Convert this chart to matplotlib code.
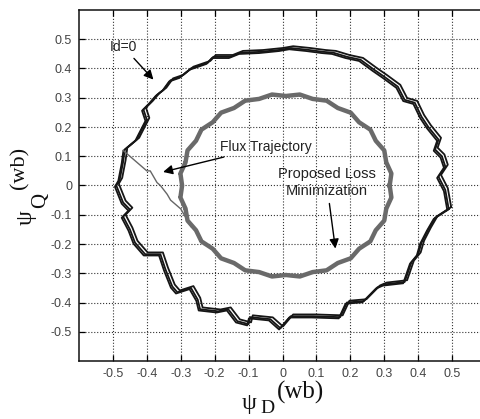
import matplotlib
matplotlib.use("Agg")
import matplotlib.pyplot as plt
import matplotlib.transforms as mtransforms

plt.rcParams['font.family'] = ['Liberation Sans', 'DejaVu Sans']

# Id=0 trajectory (outer ring), traced counter-clockwise from the right side
id0_x = [0.49, 0.48, 0.46, 0.48, 0.47, 0.45, 0.46, 0.43, 0.41, 0.39, 0.36, 0.34,
         0.30, 0.27, 0.23, 0.19, 0.15, 0.12, 0.074, 0.024,
         -0.006, -0.065, -0.124, -0.154, -0.204, -0.22, -0.27, -0.30, -0.33,
         -0.35, -0.37, -0.39, -0.41,
         -0.40, -0.43, -0.465, -0.47, -0.48, -0.49, -0.47, -0.45, -0.47, -0.45,
         -0.435, -0.405, -0.36, -0.345, -0.325, -0.31, -0.27, -0.25, -0.243,
         -0.19, -0.16, -0.133, -0.10, -0.095, -0.036, -0.006, 0.024, 0.09, 0.17,
         0.19, 0.24, 0.28, 0.30, 0.36, 0.38, 0.40, 0.41, 0.43, 0.45, 0.49]
id0_y = [-0.08, -0.015, 0.03, 0.065, 0.10, 0.123, 0.157, 0.20, 0.235, 0.283, 0.293, 0.338,
         0.372, 0.396, 0.43, 0.44, 0.454, 0.457, 0.464, 0.47,
         0.464, 0.457, 0.454, 0.44, 0.44, 0.42, 0.40, 0.372, 0.36,
         0.328, 0.31, 0.283, 0.26,
         0.225, 0.157, 0.123, 0.08, 0.02, 0.0, -0.058, -0.082, -0.106, -0.15,
         -0.195, -0.235, -0.235, -0.287, -0.345, -0.365, -0.35, -0.39, -0.423,
         -0.43, -0.423, -0.464, -0.474, -0.45, -0.457, -0.488, -0.447, -0.447, -0.45,
         -0.40, -0.395, -0.348, -0.338, -0.33, -0.263, -0.235, -0.195, -0.15, -0.11, -0.08]

# proposed loss minimization trajectory (inner ring)
plm_x = [0.316, 0.321, 0.306, 0.300, 0.275, 0.259, 0.226, 0.201, 0.163, 0.130, 0.089,
         0.051, 0.010, -0.031, -0.069, -0.110, -0.143, -0.181, -0.206, -0.239,
         -0.255, -0.280, -0.286, -0.301, -0.296, -0.301, -0.286, -0.280, -0.255,
         -0.239, -0.206, -0.181, -0.143, -0.110, -0.069, -0.031, 0.010, 0.051,
         0.089, 0.130, 0.163, 0.201, 0.226, 0.259, 0.275, 0.300, 0.306, 0.321, 0.316]
plm_y = [0.0, 0.041, 0.079, 0.120, 0.153, 0.191, 0.216, 0.249, 0.265, 0.290, 0.296,
         0.311, 0.306, 0.311, 0.296, 0.290, 0.265, 0.249, 0.216, 0.191,
         0.153, 0.120, 0.079, 0.041, 0.0, -0.041, -0.079, -0.120, -0.153,
         -0.191, -0.216, -0.249, -0.265, -0.290, -0.296, -0.311, -0.306, -0.311,
         -0.296, -0.290, -0.265, -0.249, -0.216, -0.191, -0.153, -0.120, -0.079, -0.041, 0.0]

# transition from the Id=0 ring to the inner ring
flux_x = [-0.47, -0.45, -0.43, -0.42, -0.40, -0.39, -0.37, -0.36, -0.34, -0.33,
          -0.31, -0.30, -0.28, -0.27]
flux_y = [0.12, 0.10, 0.08, 0.07, 0.05, 0.05, 0.01, 0.0, -0.03, -0.05,
          -0.07, -0.08, -0.12, -0.14]

ticks = [-0.5, -0.4, -0.3, -0.2, -0.1, 0, 0.1, 0.2, 0.3, 0.4, 0.5]
tick_labels = ['-0.5', '-0.4', '-0.3', '-0.2', '-0.1', '0', '0.1', '0.2', '0.3', '0.4', '0.5']

fig = plt.figure(figsize=(4.8, 4.19), dpi=100)
ax = fig.add_axes([79/480, 1 - 361/419, 407/480, 351/419])

# several overlapping laps of the Id=0 ring
for dx, dy in [(0, 0), (1.8, 1.3), (-1.0, -0.9)]:
    tr = mtransforms.offset_copy(ax.transData, fig=fig, x=dx, y=dy, units='points')
    ax.plot(id0_x, id0_y, color='#161616', lw=1.3, transform=tr)

ax.plot(flux_x, flux_y, color='#666666', lw=1.0)
ax.plot(plm_x, plm_y, color='#6a6a6a', lw=3.2, marker='+', ms=3.5, mew=1.2)

ax.set_xlim(-0.6, 0.6)
ax.set_ylim(-0.6, 0.6)
ax.set_xticks(ticks)
ax.set_xticklabels(tick_labels)
ax.set_yticks(ticks)
ax.set_yticklabels(tick_labels)
ax.tick_params(direction='in', length=4, width=0.9, top=True, right=True,
               labelsize=9, labelcolor='#444444', pad=5)
ax.grid(True, linestyle=':', color='#333333', lw=0.8)
for s in ax.spines.values():
    s.set_linewidth(1.1)
    s.set_color('#111111')

arrow = dict(arrowstyle='-|>', color='black', lw=1.0, mutation_scale=14)
ax.annotate('Id=0', xy=(-0.375, 0.355), xytext=(-0.47, 0.475),
            ha='center', va='center', fontsize=10, color='#222222', arrowprops=arrow)
ax.annotate('Flux Trajectory', xy=(-0.36, 0.044), xytext=(-0.183, 0.133),
            ha='left', va='center', fontsize=10, color='#222222', arrowprops=arrow)
ax.annotate('Proposed Loss\nMinimization', xy=(0.157, -0.225), xytext=(0.13, 0.01),
            ha='center', va='center', fontsize=10.5, color='#222222', arrowprops=arrow,
            linespacing=1.25)

# axis labels: psi with subscript and raised unit, in serif
serif = dict(family='Liberation Serif', ha='center', va='center', color='#111111')
W, H = 480, 419
fig.text(249/W, 1 - 403/H, 'ψ', fontsize=17, **serif)
fig.text(267/W, 1 - 408/H, 'D', fontsize=14, **serif)
fig.text(301/W, 1 - 392/H, '(wb)', fontsize=18, **serif)
fig.text(26/W, 1 - 218/H, 'ψ', fontsize=17, rotation=90, **serif)
fig.text(41/W, 1 - 200/H, 'Q', fontsize=15, rotation=90, **serif)
fig.text(20/W, 1 - 168/H, '(wb)', fontsize=16, rotation=90, **serif)

fig.savefig('out.png', dpi=100)
